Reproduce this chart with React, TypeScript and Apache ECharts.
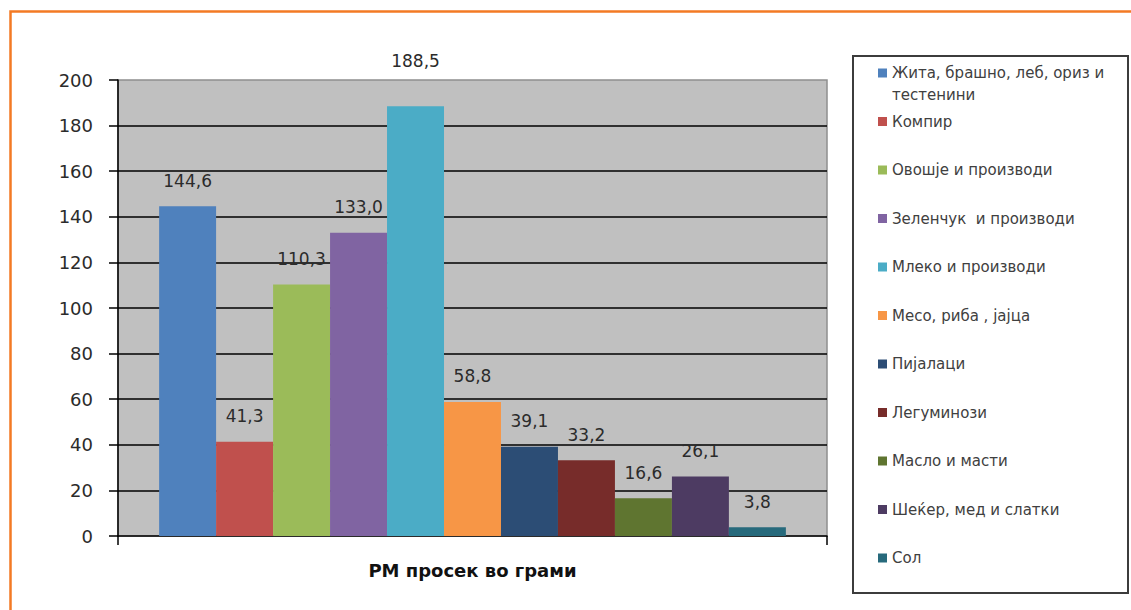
import React, { useEffect, useRef } from 'react';
import * as echarts from 'echarts';

const categories = ['РМ просек во грами'];
const seriesNames = [
  'Жита, брашно, леб, ориз и тестенини',
  'Компир',
  'Овошје и производи',
  'Зеленчук  и производи',
  'Млеко и производи',
  'Месо, риба , јајца',
  'Пијалаци',
  'Легуминози',
  'Масло и масти',
  'Шеќер, мед и слатки',
  'Сол',
];
const values = [144.6, 41.3, 110.3, 133.0, 188.5, 58.8, 39.1, 33.2, 16.6, 26.1, 3.8];
const colors = [
  '#4F81BD', '#C0504D', '#9BBB59', '#8064A2', '#4BACC6', '#F79646',
  '#2C4D75', '#772C2A', '#5F7530', '#4D3B62', '#276A7C',
];
const yMin = 0;
const yMax = 200;
const yInterval = 20;

const FONT = 'DejaVu Sans';

export default function App() {
  const ref = useRef<HTMLDivElement>(null);
  useEffect(() => {
    if (!ref.current) return;
    const chart = echarts.init(ref.current, undefined, { renderer: 'svg' });
    const firstName = seriesNames[0];
    const firstLine = 'Жита, брашно, леб, ориз и';
    const secondLine = firstName.slice(firstLine.length + 1);
    chart.setOption({
      animation: false,
      backgroundColor: '#ffffff',
      grid: {
        left: 118,
        right: 304,
        top: 80,
        bottom: 74,
        show: true,
        backgroundColor: '#C0C0C0',
        borderColor: '#8E8E8E',
        borderWidth: 1.5,
      },
      legend: {
        orient: 'vertical',
        left: 878,
        top: 64,
        padding: 0,
        itemWidth: 9,
        itemHeight: 9,
        itemGap: 30.5,
        icon: 'rect',
        data: seriesNames,
        formatter: (name: string) => (name === firstName ? firstLine : name),
        textStyle: {
          fontFamily: FONT,
          fontSize: 15,
          lineHeight: 18,
          color: '#404040',
        },
      },
      xAxis: {
        type: 'category',
        data: categories,
        axisLine: { lineStyle: { color: '#000', width: 1.5 } },
        axisTick: { show: true, length: 9, lineStyle: { color: '#000', width: 1.5 } },
        axisLabel: {
          margin: 25,
          fontFamily: FONT,
          fontSize: 18,
          fontWeight: 'bold',
          color: '#111',
        },
      },
      yAxis: {
        type: 'value',
        min: yMin,
        max: yMax,
        interval: yInterval,
        axisLine: { show: true, lineStyle: { color: '#000', width: 1.5 } },
        axisTick: { show: true, length: 9, lineStyle: { color: '#000', width: 1.5 } },
        axisLabel: {
          margin: 25,
          fontFamily: FONT,
          fontSize: 18,
          color: '#2b2b2b',
        },
        splitLine: {
          show: true,
          showMinLine: false,
          showMaxLine: false,
          lineStyle: { color: '#000', width: 1.5 },
        },
      },
      graphic: [
        {
          type: 'rect',
          left: 8,
          top: 9,
          shape: { x: 0, y: 0, width: 1300, height: 800 },
          style: { fill: 'none', stroke: '#F37A24', lineWidth: 2.5 },
          silent: true,
          z: -1,
        },
        {
          type: 'rect',
          shape: { x: 853, y: 56, width: 275, height: 537 },
          style: { fill: 'none', stroke: '#3c3c3c', lineWidth: 2 },
          silent: true,
        },
        {
          type: 'text',
          x: 892,
          y: 95,
          style: {
            text: secondLine,
            fontFamily: FONT,
            fontSize: 15,
            fill: '#404040',
            verticalAlign: 'middle',
          },
          silent: true,
        },
      ],
      series: seriesNames.map((name, i) => ({
        name,
        type: 'bar',
        barGap: '0%',
        barCategoryGap: '11.6%',
        itemStyle: { color: colors[i] },
        label: {
          show: true,
          position: 'top',
          distance: 17,
          fontFamily: FONT,
          fontSize: 17,
          color: '#2b2b2b',
          formatter: (p: any) => Number(p.value).toFixed(1).replace('.', ','),
        },
        data: [
          values[i] === Math.max(...values)
            ? { value: values[i], label: { distance: 37 } }
            : values[i],
        ],
      })),
    });
    return () => chart.dispose();
  }, []);
  return (
    <div
      ref={ref}
      style={{ position: 'absolute', left: 0, top: 0, width: 1131, height: 610 }}
    />
  );
}
